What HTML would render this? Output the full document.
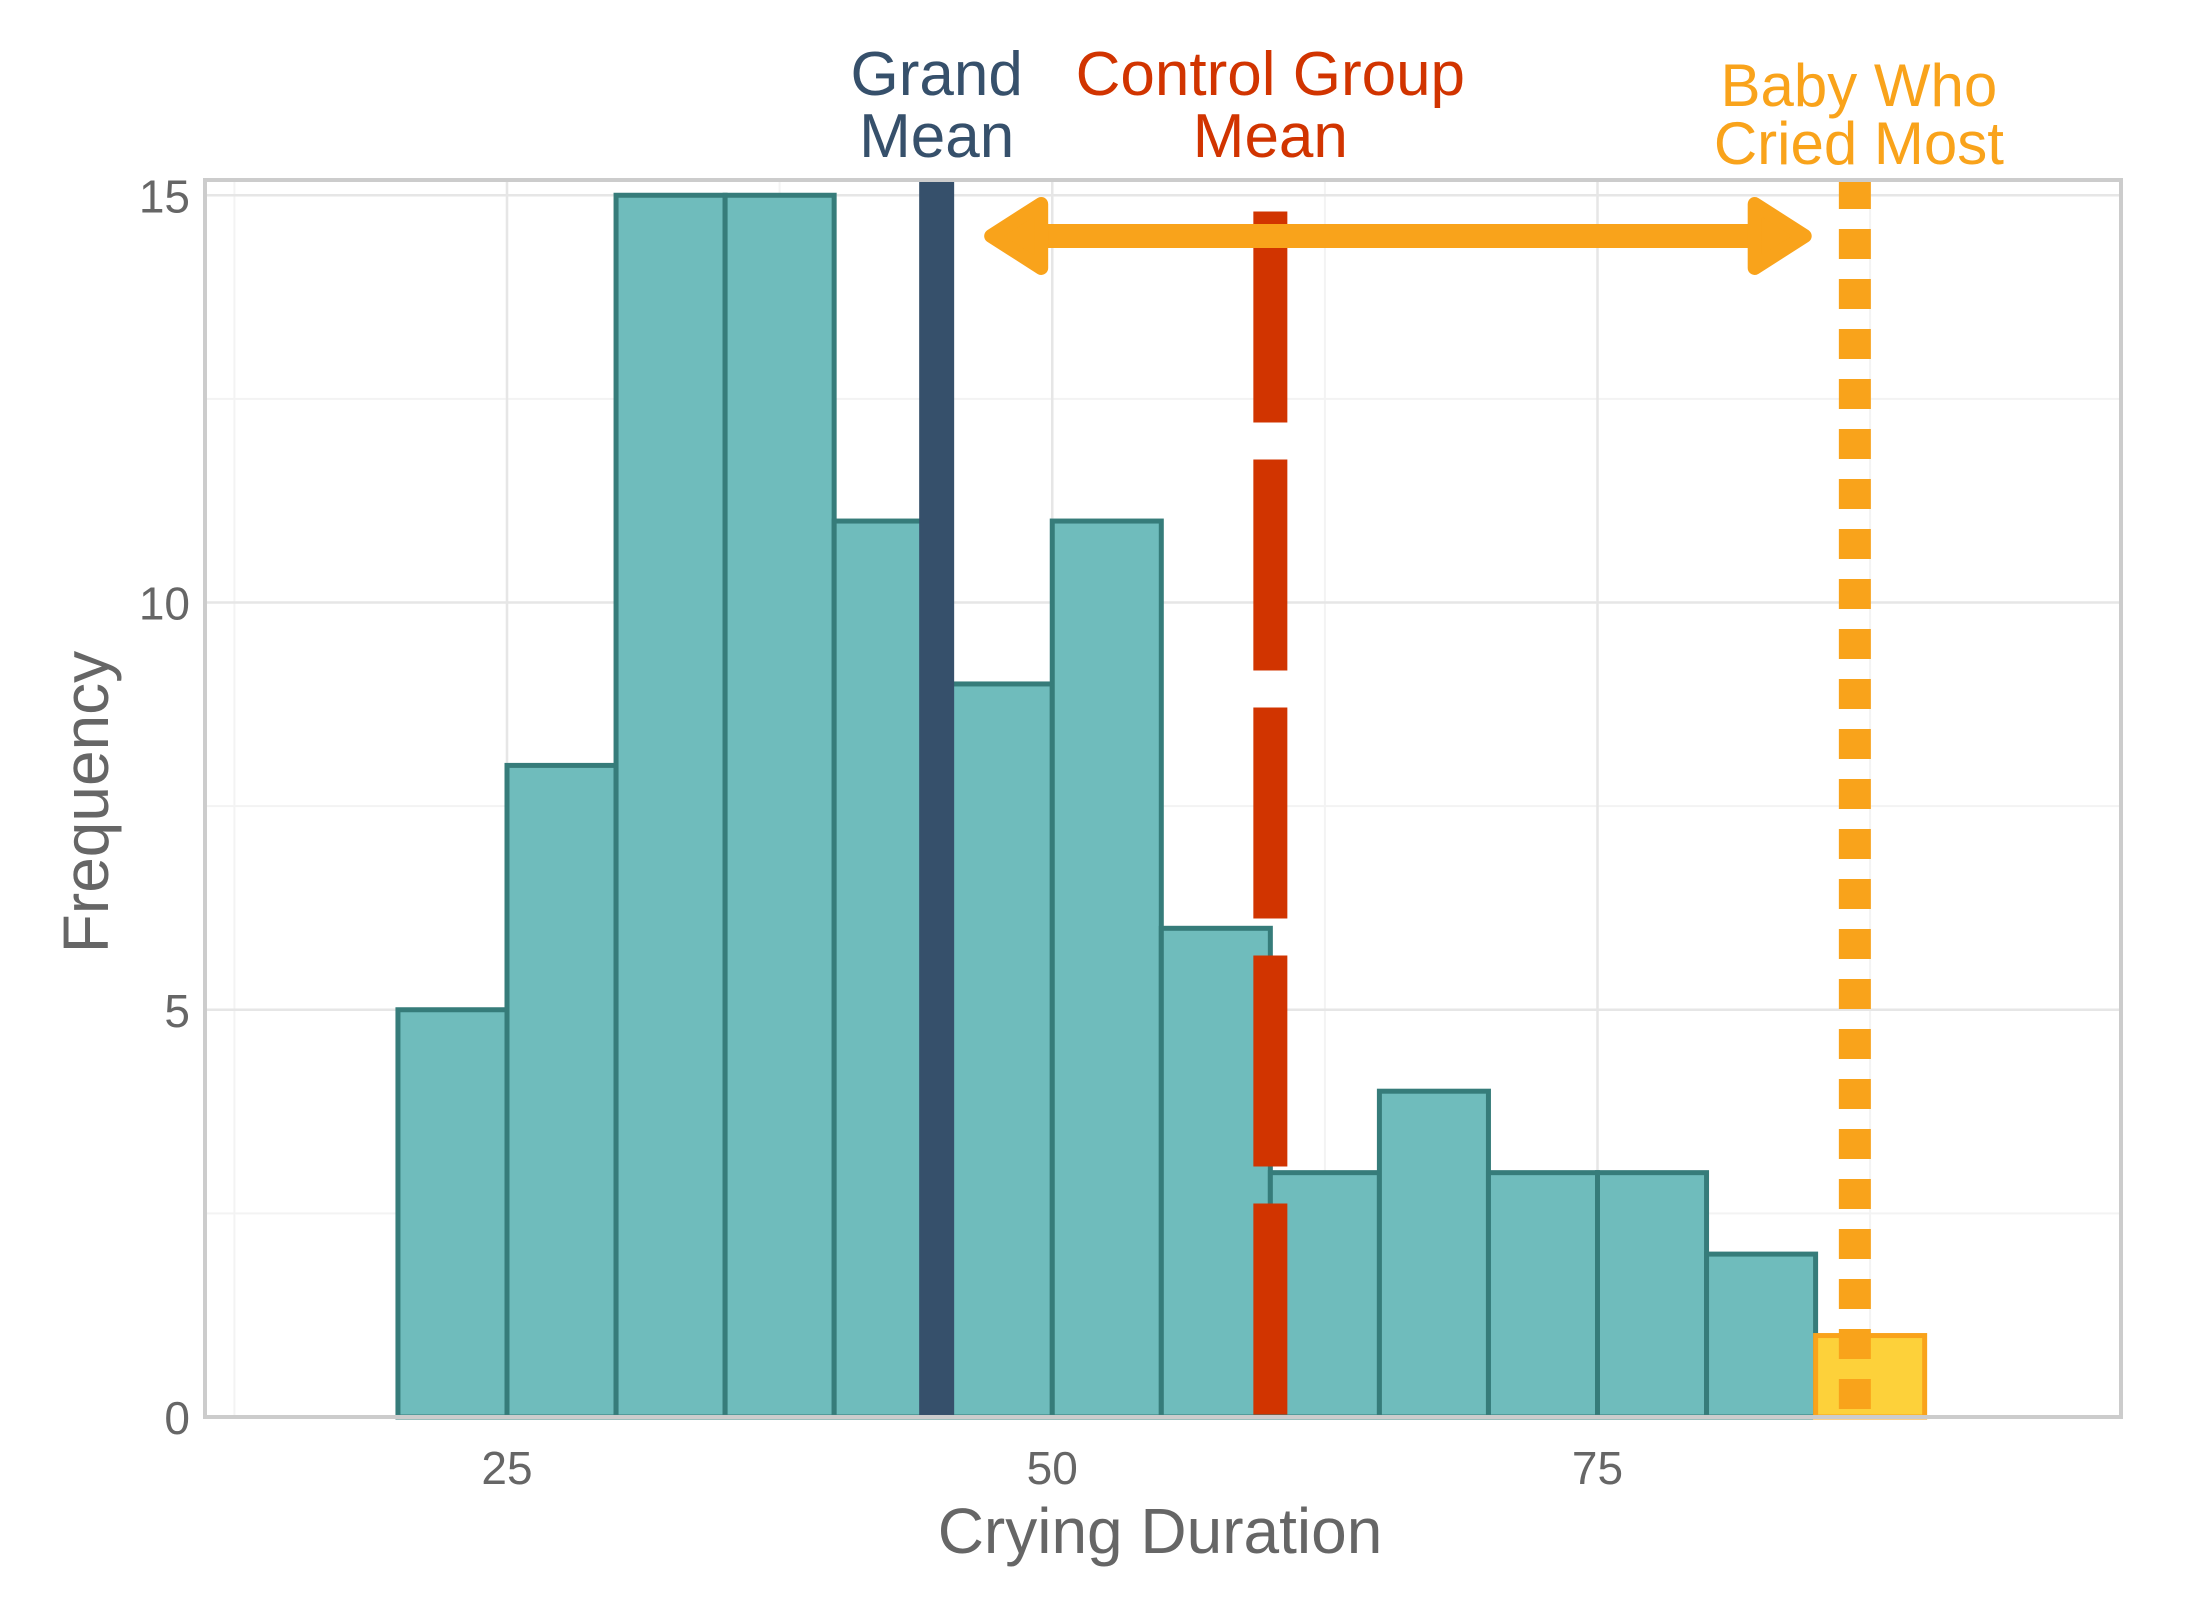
<!DOCTYPE html>
<html><head><meta charset="utf-8"><style>
html,body{margin:0;padding:0;background:#fff}
svg{display:block;font-family:"Liberation Sans",sans-serif}
</style></head><body>
<svg id="chart" width="2200" height="1600" viewBox="0 0 2200 1600" xmlns="http://www.w3.org/2000/svg"></svg>
<script>
const binStarts = [15,20,25,30,35,40,45,50,55,60,65,70,75,80,85,90];
const binCounts = [0,5,8,15,15,11,9,11,6,3,4,3,3,2,1,0];
const highlightBin = 85;
const xTicks = [25,50,75];
const yTicks = [0,5,10,15];
const grandMean = 44.7;
const controlMean = 60;
const maxCry = 86.8;
const arrowFrom = 47.2, arrowTo = 84.5, arrowY = 14.5;

const svg = document.getElementById('chart');
const NS = 'http://www.w3.org/2000/svg';
const L=205,R=2121,T=180,B=1417;
const xs = v => 507 + (v-25)*21.81;
const ys = v => 1417 - v*81.45;
function el(tag, attrs, parent){const e=document.createElementNS(NS,tag);for(const k in attrs)e.setAttribute(k,attrs[k]);(parent||svg).appendChild(e);return e;}

[2.5,7.5,12.5].forEach(v=>{const g=el('line',{x1:L,x2:R,y1:ys(v),y2:ys(v),stroke:'#f3f3f3','stroke-width':2});

});
[12.5,37.5,62.5,87.5].forEach(v=>{const g=el('line',{x1:xs(v),x2:xs(v),y1:T,y2:B,stroke:'#f3f3f3','stroke-width':2});

});
yTicks.forEach(v=>{const g=el('line',{x1:L,x2:R,y1:ys(v),y2:ys(v),stroke:'#e6e6e6','stroke-width':2.5});

});
xTicks.forEach(v=>{const g=el('line',{x1:xs(v),x2:xs(v),y1:T,y2:B,stroke:'#e6e6e6','stroke-width':2.5});

});

binStarts.forEach((s,i)=>{
  const c=binCounts[i];
  const hl = s===highlightBin;
  const r=el('rect',{x:xs(s),y:ys(c),width:xs(s+5)-xs(s),height:ys(0)-ys(c),
    fill:hl?'#fdd13a':'#6fbcbc',stroke:c===0?'#d0d0d0':(hl?'#f9a31b':'#367c7a'),'stroke-width':5});
  
  
});

let g=el('line',{x1:xs(grandMean),x2:xs(grandMean),y1:T,y2:B,stroke:'#36506b','stroke-width':35});


g=el('line',{x1:xs(controlMean),x2:xs(controlMean),y1:ys(14.8),y2:B,stroke:'#d13400','stroke-width':34,'stroke-dasharray':'211 37'});


g=el('line',{x1:xs(maxCry),x2:xs(maxCry),y1:ys(15.2),y2:B,stroke:'#f9a31b','stroke-width':32,'stroke-dasharray':'30 20'});



const ay=ys(arrowY), ax1=xs(arrowFrom), ax2=xs(arrowTo);
g=el('line',{x1:ax1+40,x2:ax2-40,y1:ay,y2:ay,stroke:'#f9a31b','stroke-width':24});


g=el('polygon',{points:`${ax1},${ay} ${ax1+50},${ay-32} ${ax1+50},${ay+32}`,fill:'#f9a31b',stroke:'#f9a31b','stroke-width':14,'stroke-linejoin':'round'});


g=el('polygon',{points:`${ax2},${ay} ${ax2-50},${ay-32} ${ax2-50},${ay+32}`,fill:'#f9a31b',stroke:'#f9a31b','stroke-width':14,'stroke-linejoin':'round'});



g=el('rect',{x:L,y:T,width:R-L,height:B-T,fill:'none',stroke:'#cccccc','stroke-width':4});



yTicks.forEach(v=>{const t=el('text',{x:190,y:ys(v)+17,'text-anchor':'end','font-size':46,fill:'#666'});t.textContent=v;

});
xTicks.forEach(v=>{const t=el('text',{x:xs(v),y:1484,'text-anchor':'middle','font-size':46,fill:'#666'});t.textContent=v;

});

let t=el('text',{x:1160,y:1553,'text-anchor':'middle','font-size':64,fill:'#666'});t.textContent='Crying Duration';


t=el('text',{x:0,y:0,'text-anchor':'middle','font-size':64,fill:'#666',transform:'translate(108,802) rotate(-90)'});t.textContent='Frequency';



function label(lines,x,y0,dy,size,color,name){
  lines.forEach((s,i)=>{const e=el('text',{x:x,y:y0+i*dy,'text-anchor':'middle','font-size':size,fill:color});e.textContent=s;
  
  });
}
label(['Grand','Mean'],xs(grandMean),95,62,62,'#36506b','grand-mean-label');
label(['Control Group','Mean'],xs(controlMean),95,62,62,'#d13400','control-mean-label');
label(['Baby Who','Cried Most'],xs(maxCry)+4,106,58,60,'#f9a31b','max-cry-label');
</script>
</body></html>
